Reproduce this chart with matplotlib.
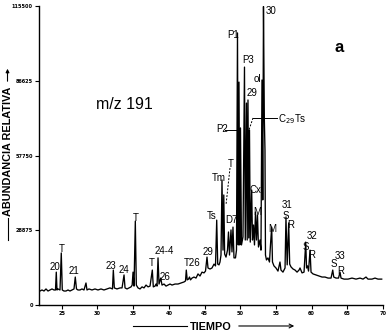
import matplotlib
matplotlib.use("Agg")
import matplotlib.pyplot as plt

# ---- data (retention time in min, abundance) ----
time_min = [
    21.96, 22.24, 22.52, 22.80, 23.08, 23.36, 23.64, 23.92, 24.13, 24.24, 24.34, 24.48, 24.76, 24.94, 25.08,
    25.32, 25.60, 25.88, 26.16, 26.44, 26.72, 26.90, 27.07, 27.28, 27.56, 27.84, 28.12, 28.40, 28.54, 28.82,
    29.24, 29.66, 30.08, 30.50, 30.92, 31.34, 31.76, 32.11, 32.23, 32.37, 32.74, 33.17, 33.45, 33.73, 33.87,
    34.15, 34.43, 34.71, 34.87, 34.99, 35.13, 35.31, 35.45, 35.69, 35.97, 36.25, 36.53, 36.81, 37.09, 37.37,
    37.69, 37.83, 38.07, 38.21, 38.35, 38.49, 38.63, 38.87, 39.05, 39.33, 39.61, 39.89, 40.17, 40.45, 40.87,
    41.29, 41.71, 42.13, 42.34, 42.45, 42.58, 42.76, 42.90, 43.04, 43.25, 43.53, 43.81, 44.09, 44.37, 44.65,
    44.93, 45.14, 45.35, 45.49, 45.77, 46.05, 46.33, 46.54, 46.71, 46.85, 47.03, 47.17, 47.31, 47.45, 47.59,
    47.70, 47.82, 48.01, 48.22, 48.36, 48.50, 48.71, 48.85, 48.99, 49.13, 49.34, 49.48, 49.62, 49.73, 49.83,
    49.94, 50.04, 50.18, 50.39, 50.60, 50.71, 50.88, 50.98, 51.09, 51.20, 51.30, 51.41, 51.61, 51.72, 51.86,
    52.00, 52.14, 52.28, 52.42, 52.56, 52.77, 52.91, 53.05, 53.16, 53.26, 53.38, 53.47, 53.54, 53.68, 53.89,
    54.10, 54.24, 54.41, 54.52, 54.73, 55.01, 55.29, 55.57, 55.71, 55.99, 56.28, 56.41, 56.58, 56.79, 56.93,
    57.12, 57.40, 57.68, 57.96, 58.24, 58.38, 58.66, 58.94, 59.18, 59.29, 59.43, 59.57, 59.78, 59.92, 60.20,
    60.62, 61.04, 61.46, 61.88, 62.30, 62.72, 62.96, 63.10, 63.42, 63.77, 63.98, 64.12, 64.54, 65.10, 65.66,
    66.22, 66.78, 67.20, 67.62, 67.90, 68.46, 68.88, 69.30, 69.82,
]
abundance = [
    5400, 5800, 5400, 6200, 5400, 5800, 6200, 5800, 5800, 12700, 5800, 6200, 5800, 20100, 5800,
    5400, 5400, 5800, 5400, 5800, 6200, 10800, 6200, 5800, 5800, 6200, 5800, 8500, 5800, 6200,
    5800, 6200, 5800, 6200, 5800, 6200, 6600, 6200, 13500, 6600, 6200, 6600, 6600, 11600, 6600,
    6200, 6600, 7000, 7700, 12700, 7300, 32400, 7700, 6600, 6200, 7000, 6600, 7700, 7000, 7300,
    13500, 7000, 7300, 8100, 7300, 18200, 8100, 10400, 7700, 8100, 7300, 7700, 8100, 7700, 8100,
    8100, 8500, 8900, 9300, 13500, 9700, 10000, 10800, 9700, 10400, 10800, 10400, 12000, 11200, 12700,
    12400, 13100, 18500, 14300, 13900, 14300, 15800, 15100, 32800, 15800, 15500, 16600, 19300, 48300, 21200,
    42500, 19700, 18500, 21200, 28200, 19300, 29000, 20500, 30100, 18200, 18200, 21200, 105100, 23200, 86100,
    23200, 68400, 23200, 26300, 91900, 25100, 78000, 25100, 79200, 25900, 67600, 24300, 44400, 25100, 30900,
    23200, 35900, 25100, 34800, 22400, 25100, 21200, 86900, 40600, 115300, 71900, 59900, 19300, 17400, 18200,
    16600, 23200, 30100, 16600, 15100, 14300, 13100, 16600, 13500, 12700, 14300, 34000, 15500, 31700, 15800,
    14700, 13900, 13500, 12700, 13500, 14300, 12400, 12700, 24300, 14300, 15100, 13100, 21200, 12700, 12000,
    11600, 11200, 10800, 10800, 10400, 10400, 13500, 10800, 10400, 10400, 12700, 10400, 10000, 10000, 10400,
    10000, 10400, 10000, 10800, 10000, 10000, 10400, 10000, 10000,
]

x_ticks = [25, 30, 35, 40, 45, 50, 55, 60, 65, 70]
y_ticks = [0, 28875, 57750, 86625, 115500]
y_tick_labels = ["0", "28875", "57750", "86625", "115500"]

# peak labels: text, time, abundance (label position)
peak_labels = [
    ("20", 24.06, 14680), ("T", 25.04, 21630), ("21", 26.72, 13130), ("23", 31.90, 15070),
    ("24", 33.73, 13520), ("T", 35.31, 33800), ("T", 37.65, 16220), ("24-4", 39.33, 20860),
    ("26", 39.47, 10820), ("T26", 43.25, 16220), ("29", 45.49, 20470), ("Ts", 46.05, 34380),
    ("Tm", 47.03, 49060), ("T", 48.71, 54470), ("D7", 48.71, 32840), ("Cx", 52.07, 44420),
    ("M", 52.35, 35930), ("M", 54.45, 29360), ("31", 56.56, 38600), ("S", 56.34, 34400),
    ("R", 57.12, 30900), ("32", 60.0, 26600), ("S", 59.12, 22300), ("R", 60.06, 19500),
    ("33", 63.98, 18930), ("S", 63.07, 15840), ("R", 64.12, 13130), ("P1", 48.99, 104300),
    ("P3", 51.09, 94640), ("29", 51.65, 81900), ("ol", 52.35, 87300), ("30", 54.31, 113570),
    ("P2", 47.45, 67990),
]

FONT = ["Liberation Sans", "DejaVu Sans"]

fig = plt.figure(figsize=(3.91, 3.36), dpi=100)
ax = fig.add_axes([39 / 391, 1 - 305 / 336, 344 / 391, 299 / 336])
ax.plot(time_min, abundance, color="black", lw=0.95)
ax.set_xlim(21.82, 70.0)
ax.set_ylim(0, 115500)
for s in ("top", "right"):
    ax.spines[s].set_visible(False)
for s in ("left", "bottom"):
    ax.spines[s].set_linewidth(1.0)
ax.set_xticks(x_ticks)
ax.set_xticklabels([str(v) for v in x_ticks])
ax.set_yticks(y_ticks)
ax.set_yticklabels(y_tick_labels)
ax.tick_params(direction="out", length=3, width=0.8, labelsize=3.6, pad=1.5, colors="black")
for lab in ax.get_xticklabels() + ax.get_yticklabels():
    lab.set_fontweight("bold")

for txt, t, a in peak_labels:
    ax.text(t, a, txt, fontsize=7, family=FONT, ha="center", va="center")

ax.text(55.29, 71850, "C$_{29}$Ts", fontsize=7, family=FONT, ha="left", va="center")
# leader lines
ax.plot([47.87, 49.69], [67600, 67600], color="black", lw=0.7)
ax.plot([51.79, 55.15], [72240, 72240], color="black", lw=0.7)
ax.plot([51.79, 51.23], [72240, 67600], color="black", lw=0.7, ls=(0, (2, 1.5)))
ax.plot([48.57, 48.01], [52920, 38630], color="black", lw=0.7, ls=(0, (2, 1.5)))

ax.text(33.73, 77260, "m/z 191", fontsize=11.5, family=FONT, ha="center", va="center")
ax.text(63.84, 99280, "a", fontsize=12, family=FONT, fontweight="bold", ha="center", va="center")

# axis titles with arrows (figure coords)
fig.text(0.0217, 0.549, "ABUNDANCIA RELATIVA", rotation=90, fontsize=7.8, family=FONT,
         fontweight="bold", ha="center", va="center")
fig.add_artist(plt.Line2D([0.0192, 0.0192], [0.2857, 0.3512], color="black", lw=0.8))
fig.patches.append(matplotlib.patches.FancyArrowPatch((0.0192, 0.75), (0.0192, 0.8036),
                   transform=fig.transFigure, arrowstyle="-|>", mutation_scale=5, lw=0.8, color="black"))
fig.text(0.5396, 0.0268, "TIEMPO", fontsize=7.8, family=FONT, fontweight="bold", ha="center", va="center")
fig.add_artist(plt.Line2D([0.340, 0.478], [0.0298, 0.0298], color="black", lw=0.8))
fig.patches.append(matplotlib.patches.FancyArrowPatch((0.6036, 0.0298), (0.7596, 0.0298),
                   transform=fig.transFigure, arrowstyle="->", mutation_scale=7, lw=0.8, color="black"))

fig.savefig("out.png", dpi=100)
